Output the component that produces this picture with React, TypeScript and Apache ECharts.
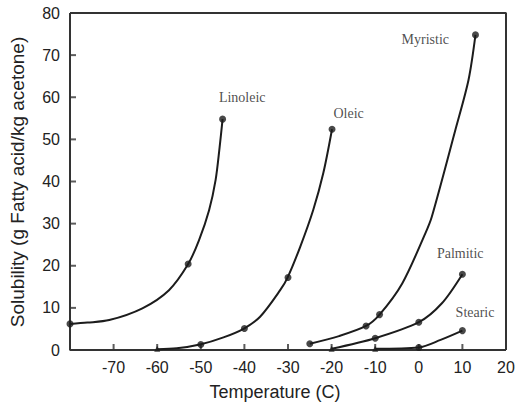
import React, { useEffect, useRef } from "react";
import * as echarts from "echarts";

const xTicks = [-80, -70, -60, -50, -40, -30, -20, -10, 0, 10, 20];
const yTicks = [0, 10, 20, 30, 40, 50, 60, 70, 80];

const linoleicCurve = [[-80, 6.2], [-76, 6.5], [-71, 7.1], [-63.4, 9.9], [-57.3, 14.2], [-52.9, 20.4], [-50.4, 26.1], [-48.1, 33.2], [-46.6, 40.4], [-45.7, 48], [-45, 54.8]];
const linoleicPoints = [[-80, 6.2], [-52.9, 20.4], [-45, 54.8]];

const oleicCurve = [[-60, 0.2], [-55.5, 0.4], [-50.2, 1.3], [-44.8, 3.0], [-40.1, 5.1], [-36.4, 7.9], [-31.8, 14.2], [-30.1, 17.2], [-27.2, 24.5], [-24.2, 33.3], [-21.9, 42], [-19.9, 52.4]];
const oleicPoints = [[-50, 1.3], [-40, 5.1], [-30, 17.2], [-19.9, 52.4]];
const oleicStart = [[-60, 0.3]];

const myristicCurve = [[-25, 1.5], [-18.3, 3.3], [-12.1, 5.7], [-9, 8.4], [-3.8, 15.8], [1.5, 27.7], [3.0, 31.7], [8.4, 52.3], [11.4, 64.1], [13, 74.8]];
const myristicPoints = [[-25, 1.5], [-12.1, 5.7], [-9, 8.4], [13, 74.8]];

const palmiticCurve = [[-20, 0.3], [-10, 2.8], [0, 6.6], [5.3, 11.1], [10, 18]];
const palmiticPoints = [[-10, 2.8], [0, 6.6], [10, 18]];
const palmiticStart = [[-20, 0.3]];

const stearicCurve = [[-10, 0.3], [0, 0.6], [5, 2.4], [10, 4.6]];
const stearicPoints = [[0, 0.6], [10, 4.6]];
const stearicStart = [[-10, 0.3]];

const labelNames = ["Linoleic", "Oleic", "Myristic", "Palmitic", "Stearic"];
const labelPositions = [[-40.5, 60.0], [-16.1, 56.2], [1.5, 73.8], [9.5, 23.0], [12.9, 8.9]];

const INK = "#1c1c1c";
const AXIS = "#333333";

const W = 519;
const H = 406;
const GRID = { left: 70, right: 13, top: 13, bottom: 56 };

const xMin = xTicks[0];
const xMax = xTicks[xTicks.length - 1];
const yMin = yTicks[0];
const yMax = yTicks[yTicks.length - 1];

const frameTopRight = [[xMin, yMax], [xMax, yMax], [xMax, yMin]];
const frameLeftBottom = [[xMin, yMax], [xMin, yMin], [xMax, yMin]];
const xInnerTicks = xTicks.slice(1, -1).map((v) => [v, yMin]);
const yInnerTicks = yTicks.slice(1, -1).map((v) => [xMin, v]);

function curve(name: string, data: number[][]) {
  return {
    type: "line",
    name,
    data,
    smooth: 0.3,
    showSymbol: false,
    symbol: "none",
    lineStyle: { color: INK, width: 2 },
    z: 2,
  };
}

function points(name: string, data: number[][], symbol = "circle", size = 7) {
  return {
    type: "scatter",
    name,
    data,
    symbol,
    symbolSize: size,
    itemStyle: { color: INK },
    z: 3,
  };
}

function frameLine(name: string, data: number[][]) {
  return {
    type: "line",
    name,
    data,
    symbol: "none",
    lineStyle: { color: AXIS, width: 2 },
    clip: false,
    z: 1,
  };
}

export default function App() {
  const ref = useRef<HTMLDivElement>(null);
  useEffect(() => {
    document.body.style.margin = "0";
    if (!ref.current) return;
    const chart = echarts.init(ref.current, undefined, { renderer: "svg" });
    chart.setOption({
      animation: false,
      backgroundColor: "#ffffff",
      grid: { ...GRID },
      xAxis: {
        type: "value",
        min: xMin,
        max: xMax,
        interval: 10,
        axisLine: { show: false },
        axisTick: { show: false },
        splitLine: { show: false },
        axisLabel: {
          color: "#222",
          fontFamily: "Liberation Sans, Arial, sans-serif",
          fontSize: 16,
          margin: 9,
          formatter: (v: number) => (v === xMin ? "" : String(v)),
          showMaxLabel: true,
        },
      },
      yAxis: {
        type: "value",
        min: yMin,
        max: yMax,
        interval: 10,
        axisLine: { show: false },
        axisTick: { show: false },
        splitLine: { show: false },
        axisLabel: {
          color: "#222",
          fontFamily: "Liberation Sans, Arial, sans-serif",
          fontSize: 16,
          margin: 10,
        },
      },
      graphic: [
        {
          type: "text",
          x: 17,
          y: 182,
          rotation: Math.PI / 2,
          style: {
            text: "Solubility (g Fatty acid/kg acetone)",
            fontFamily: "Liberation Sans, Arial, sans-serif",
            fontSize: 19,
            fill: "#222",
            align: "center",
            verticalAlign: "middle",
          },
        },
        {
          type: "text",
          x: 275,
          y: 392,
          style: {
            text: "Temperature (C)",
            fontFamily: "Liberation Sans, Arial, sans-serif",
            fontSize: 18,
            fill: "#222",
            align: "center",
            verticalAlign: "middle",
          },
        },
      ],
      series: [
        frameLine("frame top-right", frameTopRight),
        frameLine("frame left-bottom", frameLeftBottom),
        {
          type: "scatter",
          name: "x ticks",
          data: xInnerTicks,
          symbol: "rect",
          symbolSize: [2, 6],
          symbolOffset: [0, -3],
          itemStyle: { color: AXIS },
          z: 1,
        },
        {
          type: "scatter",
          name: "y ticks",
          data: yInnerTicks,
          symbol: "rect",
          symbolSize: [6, 2],
          symbolOffset: [3, 0],
          itemStyle: { color: AXIS },
          z: 1,
        },
        curve("Linoleic", linoleicCurve),
        curve("Oleic", oleicCurve),
        curve("Myristic", myristicCurve),
        curve("Palmitic", palmiticCurve),
        curve("Stearic", stearicCurve),
        points("Linoleic points", linoleicPoints),
        points("Oleic points", oleicPoints),
        points("Oleic start", oleicStart, "triangle", 6),
        points("Myristic points", myristicPoints),
        points("Palmitic points", palmiticPoints),
        points("Palmitic start", palmiticStart, "triangle", 6),
        points("Stearic points", stearicPoints),
        points("Stearic start", stearicStart, "triangle", 6),
        {
          type: "scatter",
          name: "labels",
          symbolSize: 0,
          data: labelNames.map((n, i) => ({ name: n, value: labelPositions[i] })),
          label: {
            show: true,
            position: "inside",
            formatter: (p: any) => p.name,
            fontFamily: "Liberation Serif, Times New Roman, serif",
            fontSize: 14,
            color: "#222",
          },
          z: 4,
        },
      ],
    });
    return () => chart.dispose();
  }, []);
  return <div ref={ref} style={{ width: W, height: H }} />;
}
